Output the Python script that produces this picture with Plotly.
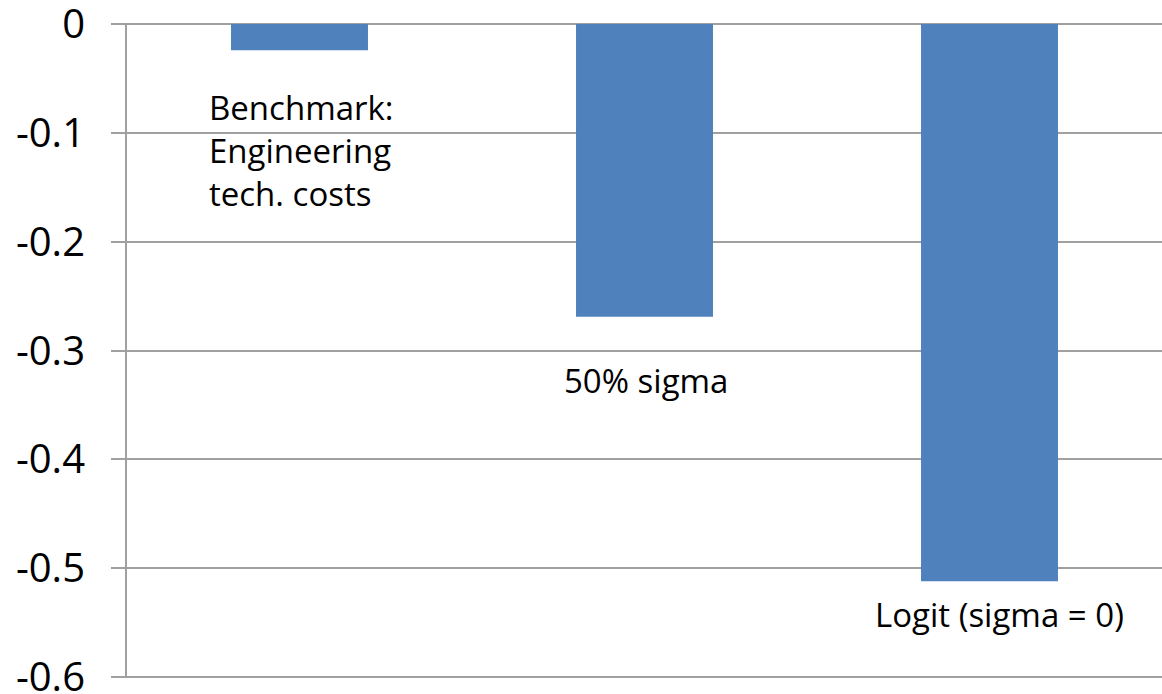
import plotly.graph_objects as go

categories = ["Benchmark", "50% sigma", "Logit"]
values = [-0.024, -0.269, -0.512]
labels = ["Benchmark:<br>Engineering<br>tech. costs", "50% sigma", "Logit (sigma = 0)"]
label_y = [-0.054, -0.328, -0.543]
label_anchor = ["top", "middle", "middle"]
label_align = ["left", "center", "center"]
label_xshift = [2, 1, 10]
tick_vals = [0, -0.1, -0.2, -0.3, -0.4, -0.5, -0.6]
tick_text = ["0", "-0.1", "-0.2", "-0.3", "-0.4", "-0.5", "-0.6"]

fig = go.Figure(go.Bar(x=categories, y=values, marker=dict(color="#4F81BD", line=dict(width=0))))

for c, t, y, ya, al, xs in zip(categories, labels, label_y, label_anchor, label_align, label_xshift):
    fig.add_annotation(x=c, y=y, text=t, showarrow=False, yanchor=ya, xanchor="center",
                       align=al, xshift=xs, font=dict(family="Open Sans", size=33, color="#000000"))

grid = "#A0A0A0"
fig.update_layout(
    width=1162, height=694,
    margin=dict(l=127, r=0, t=23, b=16, autoexpand=False),
    paper_bgcolor="white", plot_bgcolor="white",
    bargap=0.603, showlegend=False,
    xaxis=dict(showticklabels=False, showgrid=False, zeroline=False, showline=False, ticks="",
               automargin=False),
    yaxis=dict(range=[-0.601, 0.001], tickvals=tick_vals, ticktext=tick_text,
               automargin=False,
               showgrid=True, gridcolor=grid, gridwidth=2,
               zeroline=True, zerolinecolor=grid, zerolinewidth=2,
               showline=True, linecolor=grid, linewidth=2,
               ticks="outside", ticklen=14, tickwidth=2, tickcolor=grid,
               ticklabelstandoff=18, ticklabeloverflow="allow",
               tickfont=dict(family="Open Sans", size=40, color="#000000")),
)

fig.write_html("out.html")
